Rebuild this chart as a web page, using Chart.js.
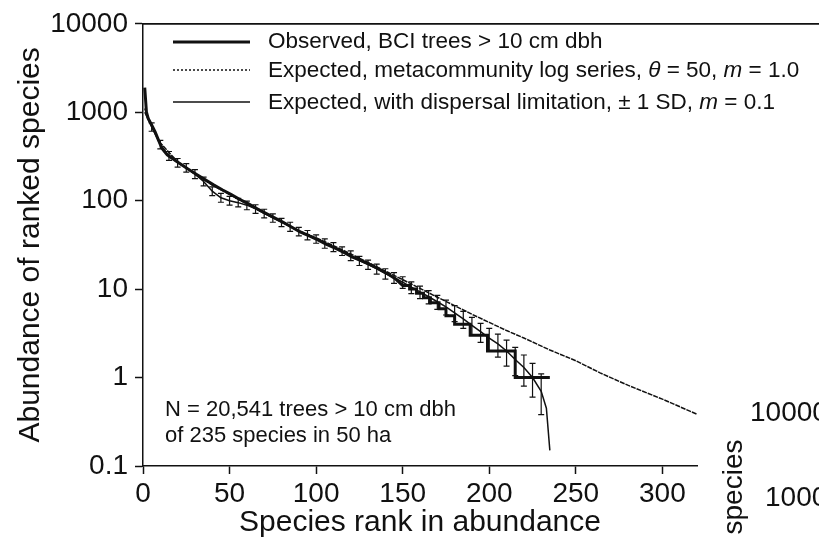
<!DOCTYPE html>
<html>
<head>
<meta charset="utf-8">
<script src="https://cdn.jsdelivr.net/npm/chart.js@4.4.1/dist/chart.umd.min.js"></script>
<style>
  html, body { margin: 0; padding: 0; background: #fff; }
  #wrap { position: relative; width: 819px; height: 547px; overflow: hidden;
          font-family: "Liberation Sans", Arial, sans-serif; color: #111; }
  #wrap canvas { position: absolute; left: 0; top: 0; }
  .txt { position: absolute; white-space: nowrap; line-height: 1; }
  .leg { font-size: 22.5px; left: 268px; }
  .note { font-size: 22px; left: 165px; }
  .side { font-size: 28px; }
</style>
</head>
<body>
<div id="wrap">
  <canvas id="myChart" width="819" height="547"></canvas>
  <div class="txt leg" style="top:30px">Observed, BCI trees &gt; 10 cm dbh</div>
  <div class="txt leg" style="top:59px">Expected, metacommunity log series, <i>θ</i> = 50, <i>m</i> = 1.0</div>
  <div class="txt leg" style="top:91px">Expected, with dispersal limitation, ± 1 SD, <i>m</i> = 0.1</div>
  <div class="txt note" style="top:398px">N = 20,541 trees &gt; 10 cm dbh</div>
  <div class="txt note" style="top:424px">of 235 species in 50 ha</div>
  <!-- bits of the next panel that the crop cuts into -->
  <div class="txt side" style="left:750px;top:398px">10000</div>
  <div class="txt side" style="left:765px;top:483px">1000</div>
  <div class="txt" style="left:733px;top:487px;font-size:28px;transform:translate(-50%,-50%) rotate(-90deg)">species</div>
</div>
<script>
// observed BCI ranks (stairs in the tail are where abundances tie)
const obsRank = [1, 2, 3, 5, 7, 9, 11, 14, 17, 21, 26, 31, 36, 41, 46, 51, 56, 61, 66, 71, 76, 81, 86, 91, 96,
  101, 106, 111, 116, 121, 126, 131, 136, 141, 146, 150, 154, 154, 158, 158, 162, 162, 166, 166, 171, 171,
  175, 175, 180, 180, 189, 189, 199, 199, 215, 215, 235];
const obsAbund = [1900, 1000, 850, 720, 600, 480, 390, 330, 300, 265, 228, 198, 172, 150, 132, 117, 103, 92, 81, 72, 64,
  57, 50, 44, 40, 36, 32, 29, 26, 23, 21, 19, 17, 15, 13, 11, 11, 10, 10, 9, 9, 8, 8, 7, 7, 6,
  6, 5, 5, 4, 4, 3, 3, 2, 2, 1, 1];

// metacommunity log series, theta = 50, m = 1.0
const metaRank = [1, 5, 10, 20, 30, 40, 50, 60, 70, 80, 90, 100, 110, 120, 130, 140, 150, 160, 170, 180,
  190, 200, 210, 220, 235, 250, 264, 280, 300, 320];
const metaAbund = [1100, 700, 450, 275, 200, 150, 118, 92, 72, 58, 46, 38, 31, 25, 20, 16, 12.8, 10.2, 8.1, 6.5,
  5.2, 4.2, 3.4, 2.8, 2.05, 1.55, 1.13, 0.82, 0.57, 0.385];

// dispersal limited, m = 0.1
const dispRank = [1, 5, 10, 15, 20, 25, 30, 35, 40, 45, 50, 55, 60, 65, 70, 75, 80, 85, 90, 95, 100,
  105, 110, 115, 120, 125, 130, 135, 140, 145, 150, 155, 160, 165, 170, 175, 180, 185, 190, 195, 200,
  205, 210, 215, 220, 225, 230, 233, 235];
const dispAbund = [1000, 680, 430, 320, 270, 235, 200, 165, 128, 108, 100, 95, 89, 81, 72, 64, 57, 51, 45, 41, 37,
  33, 30, 27, 24, 21, 19, 17, 15, 13.5, 12, 10.5, 9.3, 8.2, 7.2, 6.3, 5.4, 4.6, 3.9, 3.3, 2.8,
  2.4, 2.0, 1.6, 1.3, 1.0, 0.7, 0.45, 0.15];

// +/- 1 SD around the dispersal limited curve
const errRank = [5, 10, 15, 20, 25, 30, 35, 40, 45, 50, 55, 60, 65, 70, 75, 80, 85, 90, 95, 100,
  105, 110, 115, 120, 125, 130, 135, 140, 145, 150, 155, 160, 165, 170, 175, 180, 185, 190, 195, 200,
  205, 210, 215, 220, 225, 230];
const errLow = [610, 385, 285, 240, 210, 178, 147, 114, 96, 89, 85, 79, 72, 64, 57, 51, 45, 40, 36, 33,
  29, 26.5, 24, 21, 18.5, 16.7, 14.8, 13, 11.6, 10.2, 8.9, 7.8, 6.8, 5.9, 5.1, 4.3, 3.6, 3.0, 2.5, 2.0,
  1.7, 1.35, 1.05, 0.8, 0.6, 0.38];
const errHigh = [760, 480, 360, 300, 262, 224, 185, 143, 121, 112, 106, 99, 90, 80, 71, 63, 57, 50, 46, 41,
  37, 33.5, 30, 27, 23.5, 21.3, 19.2, 17, 15.4, 13.8, 12.1, 10.8, 9.6, 8.5, 7.5, 6.5, 5.6, 4.8, 4.1, 3.6,
  3.1, 2.65, 2.2, 1.8, 1.45, 1.1];

const xTicks = [0, 50, 100, 150, 200, 250, 300];
const yTicks = [0.1, 1, 10, 100, 1000, 10000];

const pts = (xs, ys) => xs.map((x, i) => ({x: x, y: ys[i]}));
const ink = '#111';
const fam = '"Liberation Sans", Arial, sans-serif';

const legendY = [42, 70, 102];

const extras = {
  id: 'extras',
  afterDatasetsDraw(chart) {
    const {ctx, chartArea} = chart;
    const xs = chart.scales.x, ys = chart.scales.y;
    ctx.save();
    ctx.strokeStyle = ink;
    ctx.lineWidth = 1.2;
    ctx.beginPath();
    errRank.forEach((r, i) => {
      const px = xs.getPixelForValue(r);
      const lo = ys.getPixelForValue(errLow[i]);
      const hi = ys.getPixelForValue(errHigh[i]);
      ctx.moveTo(px, lo); ctx.lineTo(px, hi);
      ctx.moveTo(px - 3, lo); ctx.lineTo(px + 3, lo);
      ctx.moveTo(px - 3, hi); ctx.lineTo(px + 3, hi);
    });
    ctx.stroke();
    // frame top runs on to the edge of the scan
    ctx.lineWidth = 1.8;
    ctx.beginPath();
    ctx.moveTo(chartArea.left, chartArea.top);
    ctx.lineTo(chart.width, chartArea.top);
    ctx.stroke();
    // legend samples
    chart.data.datasets.forEach((ds, i) => {
      ctx.lineWidth = ds.borderWidth;
      ctx.setLineDash(i === 1 ? [2, 2] : []);
      ctx.beginPath();
      ctx.moveTo(173, legendY[i]);
      ctx.lineTo(250, legendY[i]);
      ctx.stroke();
    });
    ctx.restore();
  }
};

const ctx = document.getElementById('myChart').getContext('2d');
const config = {
  type: 'scatter',
  data: {
    datasets: [
      { label: 'Observed', data: pts(obsRank, obsAbund), showLine: true, borderColor: ink,
        borderWidth: 3, pointRadius: 0, tension: 0 },
      { label: 'Metacommunity', data: pts(metaRank, metaAbund), showLine: true, borderColor: ink,
        borderWidth: 1.5, borderDash: [5, 1], pointRadius: 0, tension: 0 },
      { label: 'Dispersal', data: pts(dispRank, dispAbund), showLine: true, borderColor: ink,
        borderWidth: 1.5, pointRadius: 0, tension: 0 }
    ]
  },
  options: {
    responsive: false,
    animation: false,
    devicePixelRatio: 1,
    layout: { padding: { top: 17, right: 122, left: 0, bottom: 0 } },
    plugins: { legend: { display: false }, tooltip: { enabled: false } },
    scales: {
      x: {
        type: 'linear', min: 0, max: 320,
        afterBuildTicks: (s) => { s.ticks = xTicks.map(v => ({value: v})); },
        afterFit: (s) => { s.height = 81; },
        ticks: { color: ink, font: { family: fam, size: 28 }, padding: 3, maxRotation: 0 },
        grid: { drawOnChartArea: false, tickLength: 8, color: ink, tickWidth: 1.5 },
        border: { color: ink, width: 1.5 },
        title: { display: true, text: 'Species rank in abundance', color: ink,
                 font: { family: fam, size: 30 }, padding: { top: 0, bottom: 6 } }
      },
      y: {
        type: 'logarithmic', min: 0.1, max: 10000,
        afterBuildTicks: (s) => { s.ticks = yTicks.map(v => ({value: v})); },
        afterFit: (s) => { s.width = 143; },
        ticks: { color: ink, font: { family: fam, size: 28 }, padding: 7, callback: (v) => String(v) },
        grid: { drawOnChartArea: false, tickLength: 8, color: ink, tickWidth: 1.5 },
        border: { color: ink, width: 1.5 },
        title: { display: true, text: 'Abundance of ranked species', color: ink,
                 font: { family: fam, size: 30 }, padding: { top: 13, bottom: 0 } }
      }
    }
  },
  plugins: [extras]
};
const myChart = new Chart(ctx, config);
</script>
</body>
</html>
